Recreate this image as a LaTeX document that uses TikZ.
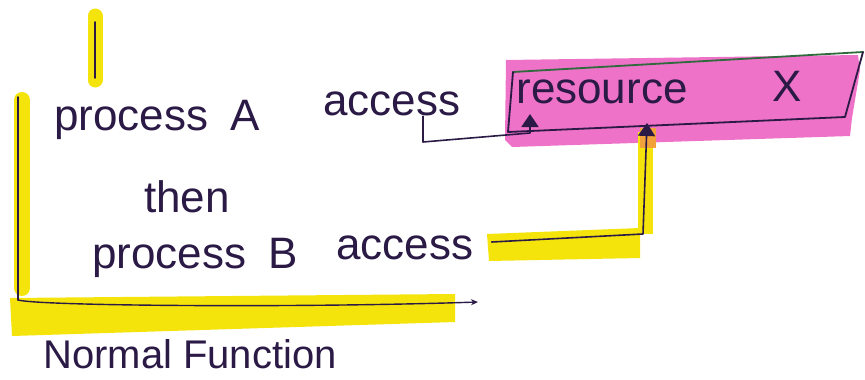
\documentclass[tikz,border=0pt]{standalone}
\usepackage{fontspec}
\setmainfont{Liberation Sans}
\usetikzlibrary{arrows.meta,calc}
\definecolor{hl}{HTML}{F4E40C}
\definecolor{pinkhl}{HTML}{EE72C8}
\definecolor{ink}{HTML}{2A1A45}
\definecolor{boxgreen}{HTML}{2F6A3C}
\definecolor{orangehl}{HTML}{F2A23A}
\tikzset{
  hand/.style={font=\fontsize{44}{50}\selectfont, text=ink, inner sep=0pt},
  pen/.style={draw=ink, line width=1.8pt, line cap=round, line join=round},
  tip/.style={-{Triangle[length=13pt,width=17pt]}},
}
\begin{document}
\begin{tikzpicture}[x=1pt,y=-1pt]
\useasboundingbox[fill=white] (0,0) rectangle (865,380);
% highlights
\draw[hl, line width=15pt, line cap=round] (95,16) -- (95,80);
\draw[hl, line width=16pt, line cap=round] (22,100) -- (22,288);
\fill[hl] (10,298) -- (455,294) -- (455,322) -- (12,336) -- cycle;
\fill[pinkhl] (506,60) -- (858,55) -- (860,70) -- (852,118) -- (850,136) -- (512,147) -- (505,140) -- cycle;
\fill[hl] (487,234) -- (640,228) -- (640,258) -- (489,261) -- cycle;
\fill[hl] (638,132) rectangle (653,234);
\fill[orangehl] (640,128) rectangle (656,148);
% resource box
\coordinate (rtl) at (513,72);
\coordinate (rtr) at (863,52);
\coordinate (rbr) at (845,117);
\coordinate (rbl) at (508,132);
\draw[boxgreen, line width=1.8pt, line cap=round] (rtl) -- (rtr);
\draw[pen] (rtr) -- (rbr) -- (rbl) -- (rtl);
% texts
\node[hand] (pA) at (157,120) {process\hspace{0.5em}A};
\node[hand] (accA) at (392,104) {access};
\node[hand] (then) at (187,197) {then};
\node[hand] (pB) at (195,258) {process\hspace{0.5em}B};
\node[hand] (accB) at (405,248) {access};
\node[hand] (res) at (602,92) {resource};
\node[hand] (resX) at (787,86) {X};
\node[hand, font=\fontsize{40}{46}\selectfont] (nf) at (190,354) {Normal Function};
% axes and mark
\draw[pen] (95,22) -- (95,78);
\coordinate (o) at (18,300);
\draw[pen] (18,97) -- (o);
\draw[pen, -{Stealth[length=7pt,width=6pt]}, line width=1.4pt] (o) .. controls (40,306) and (300,308) .. (478,302);
% connectors
\coordinate (aA) at (530,114);
\coordinate (aB) at (647,123);
\coordinate (sA) at ([xshift=31pt]accA.south);
\coordinate (sB) at ([xshift=18pt,yshift=6pt]accB.east);
\draw[pen, line width=1.6pt, tip] (sA) -- (sA |- 0,142) -- (530,133) -- (aA);
\draw[pen, line width=1.6pt, tip] (sB) -- (643,234) -- (aB);
\end{tikzpicture}
\end{document}
